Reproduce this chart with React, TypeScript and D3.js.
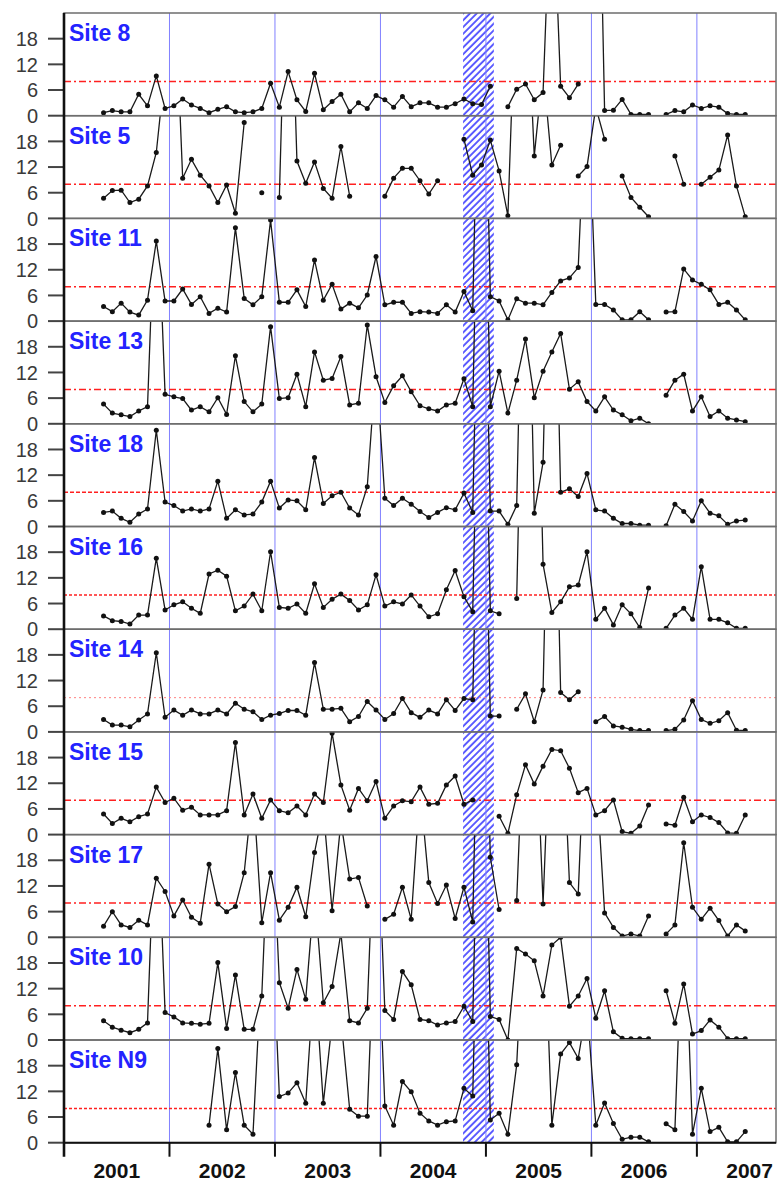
import React, { useEffect, useRef } from 'react'
import * as d3 from 'd3'

// one value per month, first value is May 2001 (month index 4 counted from Jan 2001)
// values above 24 run off the top of a panel; null = no sample
const firstMonth = 4

const siteLabels = ['Site 8', 'Site 5', 'Site 11', 'Site 13', 'Site 18', 'Site 16', 'Site 14', 'Site 15', 'Site 17', 'Site 10', 'Site N9']
const yearLabels = ['2001', '2002', '2003', '2004', '2005', '2006', '2007']
const yTicks = [0, 6, 12, 18]
const threshold = 8
// hatched period, in months since Jan 2001
const eventStart = 45.4
const eventEnd = 48.9

const site8 = [
  0.7, 1.2, 0.9, 0.9, 5.0, 2.3, 9.3, 1.7, 2.3, 3.9,
  2.5, 1.7, 0.7, 1.5, 2.1, 0.9, 0.7, 0.9, 1.7, 7.6,
  2.0, 10.3, 3.7, 1.0, 9.9, 1.4, 3.3, 5.0, 0.9, 3.0,
  1.7, 4.7, 3.7, 2.0, 4.5, 2.1, 3.0, 3.0, 2.0, 2.0,
  2.8, 3.9, 2.8, 2.6, 6.9, null, 2.1, 6.2, 7.4, 3.7,
  5.4, 60, 6.9, 4.2, 7.4, null, 100, 1.2, 1.3, 3.8,
  0.3, 0.3, 0.3, null, 0.3, 1.2, 0.9, 2.5, 1.7, 2.3,
  2.0, 0.5, 0.3, 0.3,
]
const site5 = [
  4.7, 6.5, 6.6, 3.7, 4.5, 7.6, 15.4, 35, 60, 9.4,
  13.8, 10.1, 7.6, 3.7, 7.8, 1.2, 22.4, null, 6.0, null,
  4.9, 80, 13.4, 8.2, 13.2, 7.0, 4.7, 16.8, 5.2, null,
  null, null, 5.2, 9.4, 11.7, 11.7, 8.8, 5.7, 8.8, null,
  null, 18.5, 10.1, 12.5, 18.3, 11.1, 0.6, 60, 60, 14.6,
  35, 12.5, 17.1, null, 9.9, 12.1, 26, 18.5, null, 9.9,
  4.9, 2.6, 0.4, null, null, 14.6, 8.0, null, 8.0, 9.6,
  11.3, 19.5, 7.6, 0.4,
]
const site11 = [
  3.4, 2.2, 4.2, 2.1, 1.4, 4.9, 18.7, 4.7, 4.7, 7.5,
  3.9, 5.7, 1.8, 3.0, 2.1, 21.8, 5.3, 3.8, 5.7, 23.6,
  4.4, 4.4, 7.3, 3.4, 14.3, 4.9, 8.6, 2.8, 4.2, 3.1,
  6.1, 15.1, 3.8, 4.4, 4.4, 1.8, 2.2, 2.1, 1.8, 3.8,
  2.1, 6.9, 2.4, 100, 5.7, 4.7, 0.3, 5.2, 4.2, 4.2,
  3.8, 6.7, 9.4, 10.1, 12.5, 60, 3.9, 3.9, 2.6, 0.3,
  0.3, 2.2, 0.3, null, 2.1, 2.2, 12.2, 9.6, 8.6, 7.3,
  3.9, 4.4, 2.6, 0.3,
]
const site13 = [
  4.6, 2.5, 2.1, 1.7, 3.0, 4.0, 60, 6.9, 6.3, 5.9,
  3.2, 4.0, 2.8, 6.1, 2.2, 15.9, 5.2, 2.8, 4.6, 22.7,
  5.9, 6.1, 11.6, 4.0, 16.8, 10.2, 10.6, 15.7, 4.4, 4.8,
  23.1, 11.0, 5.0, 8.9, 11.2, 7.5, 4.2, 3.5, 3.0, 4.4,
  4.8, 10.5, 4.0, 100, 4.0, 12.3, 2.5, 10.2, 19.8, 6.1,
  12.3, 16.8, 21.1, 8.1, 9.8, 5.2, 3.0, 6.3, 3.2, 2.1,
  0.7, 1.3, 0, null, 6.7, 10.2, 11.6, 3.0, 6.3, 1.7,
  3.0, 1.3, 0.9, 0.5,
]
const site18 = [
  3.3, 3.6, 1.9, 1.0, 2.9, 4.1, 22.5, 5.7, 4.9, 3.6,
  4.1, 3.6, 4.1, 10.6, 1.9, 3.9, 2.7, 2.9, 5.7, 10.6,
  4.3, 6.2, 6.0, 3.9, 16.1, 5.4, 7.2, 8.0, 4.3, 2.7,
  9.3, 38, 6.6, 4.9, 6.6, 5.2, 3.5, 2.1, 3.3, 4.4,
  3.9, 7.8, 3.3, 100, 3.6, 3.6, 0.5, 4.9, 100, 3.1,
  15.0, 100, 8.0, 8.8, 7.0, 12.4, 3.9, 3.6, 1.9, 0.7,
  0.7, 0.3, 0.3, null, 0.2, 5.2, 3.5, 1.3, 6.0, 3.1,
  2.5, 0.5, 1.3, 1.5,
]
const site16 = [
  3.1, 2.0, 1.8, 1.2, 3.3, 3.3, 16.6, 4.5, 5.7, 6.4,
  4.9, 3.7, 12.9, 13.8, 12.4, 4.3, 5.4, 8.2, 4.3, 18.1,
  5.1, 4.9, 5.9, 3.7, 10.6, 5.1, 7.0, 8.2, 6.7, 4.5,
  5.7, 12.7, 5.4, 6.4, 5.9, 8.0, 5.4, 2.9, 3.6, 9.2,
  13.7, 7.6, 4.1, 100, 4.3, 3.6, null, 7.2, 100, 100,
  15.2, 3.9, 6.4, 9.9, 10.3, 18.1, 2.3, 4.9, 1.0, 5.7,
  3.6, 0.4, 9.6, null, 0.2, 3.3, 4.9, 2.3, 14.6, 2.3,
  2.3, 1.5, 0.2, 0.2,
]
const site14 = [
  2.9, 1.6, 1.6, 1.2, 2.8, 4.2, 18.5, 3.4, 5.1, 3.9,
  5.1, 4.2, 4.2, 5.1, 4.2, 6.7, 5.3, 4.7, 2.9, 3.9,
  4.3, 5.0, 5.0, 3.9, 16.2, 5.3, 5.3, 5.5, 2.4, 3.6,
  7.1, 5.1, 2.9, 4.3, 7.8, 4.5, 3.4, 5.1, 4.2, 7.5,
  5.0, 7.8, 7.5, 100, 3.7, 3.7, null, 5.3, 8.9, 2.4,
  9.8, 100, 9.2, 7.5, 9.4, null, 2.4, 3.6, 1.4, 1.1,
  0.6, 0.3, 0.3, null, 0.3, 0.6, 2.8, 7.3, 2.9, 2.0,
  2.6, 4.5, 0.4, 0.3,
]
const site15 = [
  4.8, 2.6, 3.8, 3.0, 4.2, 4.8, 11.1, 7.5, 8.5, 5.7,
  6.4, 4.6, 4.6, 4.6, 5.6, 21.5, 4.6, 9.5, 3.8, 8.1,
  5.6, 5.1, 6.7, 4.6, 9.5, 7.5, 23.7, 11.6, 5.7, 10.8,
  7.9, 12.4, 3.8, 6.7, 7.9, 7.7, 11.1, 7.1, 7.3, 11.6,
  13.7, 7.1, 8.1, null, null, 4.3, 0.3, 9.3, 16.3, 11.8,
  16.0, 19.9, 19.6, 15.5, 9.8, 10.8, 4.6, 5.6, 8.1, 0.7,
  0.3, 2.0, 6.9, null, 2.5, 2.2, 8.7, 3.0, 4.6, 4.0,
  2.8, 0.4, 0.3, 4.6,
]
const site17 = [
  2.6, 6.0, 2.9, 2.3, 4.0, 2.9, 13.8, 10.7, 5.0, 8.7,
  4.7, 3.3, 17.1, 7.8, 6.0, 7.2, 15.1, 35, 3.4, 15.1,
  4.0, 7.0, 11.7, 4.8, 19.8, 30, 6.2, 27, 13.6, 14.0,
  7.3, null, 4.2, 5.4, 11.7, 4.2, 35, 12.8, 7.9, 12.2,
  4.4, 11.7, 3.6, 100, 18.7, 6.5, null, 8.6, 60, 60,
  7.8, 60, 60, 12.8, 10.1, 60, 40, 5.7, 2.3, 0.3,
  0.8, 0.3, 5.0, null, 0.8, 2.9, 22.1, 7.0, 4.2, 6.8,
  3.9, 0.3, 2.9, 1.5,
]
const site10 = [
  4.5, 3.0, 2.3, 1.7, 2.5, 4.0, 60, 6.4, 5.4, 4.0,
  3.9, 3.7, 3.9, 18.1, 2.7, 15.2, 2.5, 2.5, 10.3, 60,
  13.4, 7.4, 16.5, 9.5, 35, 8.7, 12.5, 25, 4.5, 4.0,
  7.4, 60, 6.9, 4.8, 16.0, 12.9, 4.8, 4.5, 3.5, 4.0,
  4.3, 7.9, 4.3, 100, 5.5, 4.8, 0, 21.4, 20.1, 18.5,
  10.3, 22.2, 24, 7.9, 10.3, 14.4, 5.1, 11.5, 1.9, 0.4,
  0.3, 0.3, 0.3, null, 11.5, 3.9, 13.1, 1.4, 2.2, 4.7,
  3.0, 0.3, 0.3, 0.3,
]
const siteN9 = [
  null, null, null, null, null, null, null, null, null, null,
  null, null, 4.1, 22.0, 3.0, 16.4, 4.1, 2.0, 42, 60,
  10.8, 11.6, 14.0, 9.2, 40, 9.2, 28, 29, 7.8, 6.2,
  6.2, 60, 8.6, 4.1, 14.3, 11.9, 6.9, 5.1, 4.1, 4.9,
  5.1, 12.7, 10.9, 100, 5.3, 6.9, 2.0, 18.2, 60, 60,
  60, 4.1, 20.7, 23.4, 19.7, 32, 4.1, 9.3, 4.5, 0.8,
  1.3, 1.3, 0.2, null, 4.4, 3.0, 60, 2.0, 12.7, 2.6,
  3.6, 0.2, 0.2, 2.6,
]

const siteSeries = [site8, site5, site11, site13, site18, site16, site14, site15, site17, site10, siteN9]

const W = 781
const H = 1185
const left = 64
const right = 776
const top = 13
const panelH = 102.7

// red reference line style per panel (dash-dot, dashed, dotted)
const refDash = ['7,3,2,3', '7,3,2,3', '7,3,2,3', '7,3,2,3', '4,2', '3,2', '2,3', '7,3,2,3', '7,3,2,3', '7,3,2,3', '3,2']

type Pt = { m: number; v: number | null }

const App: React.FC = () => {
  const svgRef = useRef<SVGSVGElement>(null)

  useEffect(() => {
    if (!svgRef.current) return
    const svg = d3.select(svgRef.current)
    svg.selectAll('*').remove()

    const x = d3.scaleLinear().domain([0, 81]).range([left, right])
    const bottom = top + panelH * siteSeries.length
    const font = "'Liberation Sans', Arial, sans-serif"

    const defs = svg.append('defs')
    const pat = defs.append('pattern')
      .attr('id', 'hatch')
      .attr('patternUnits', 'userSpaceOnUse')
      .attr('width', 4.8)
      .attr('height', 4.8)
      .attr('patternTransform', 'rotate(45)')
    pat.append('line')
      .attr('x1', 1).attr('y1', 0).attr('x2', 1).attr('y2', 4.8)
      .attr('stroke', '#3838ff')
      .attr('stroke-width', 1.6)

    svg.append('rect').attr('width', W).attr('height', H).attr('fill', '#fff')

    // hatched event band across all panels
    svg.append('rect')
      .attr('x', x(eventStart))
      .attr('y', top)
      .attr('width', x(eventEnd) - x(eventStart))
      .attr('height', bottom - top)
      .attr('fill', 'url(#hatch)')

    siteSeries.forEach((vals, p) => {
      const y0 = top + p * panelH
      const y = d3.scaleLinear().domain([0, 24]).range([y0 + panelH, y0])
      const clipId = `clip${p}`
      defs.append('clipPath').attr('id', clipId)
        .append('rect')
        .attr('x', left).attr('y', y0)
        .attr('width', right - left).attr('height', panelH)

      const g = svg.append('g')

      // year boundaries
      g.selectAll('line.year')
        .data(d3.range(12, 81, 12))
        .join('line')
        .attr('x1', d => x(d)).attr('x2', d => x(d))
        .attr('y1', y0).attr('y2', y0 + panelH)
        .attr('stroke', '#8080ff')
        .attr('stroke-width', 1)

      // reference level
      g.append('line')
        .attr('x1', left).attr('x2', right)
        .attr('y1', y(threshold)).attr('y2', y(threshold))
        .attr('stroke', p === 6 ? '#ff8080' : '#ff2020')
        .attr('stroke-width', p === 6 ? 1 : 1.5)
        .attr('stroke-dasharray', refDash[p])

      const pts: Pt[] = vals.map((v, k) => ({ m: firstMonth + k + 0.5, v }))
      const line = d3.line<Pt>()
        .defined(d => d.v !== null)
        .x(d => x(d.m))
        .y(d => y(d.v as number))

      const gc = g.append('g').attr('clip-path', `url(#${clipId})`)
      gc.append('path')
        .datum(pts)
        .attr('fill', 'none')
        .attr('stroke', '#1a1a1a')
        .attr('stroke-width', 1.3)
        .attr('d', line)
      gc.selectAll('circle')
        .data(pts.filter(d => d.v !== null))
        .join('circle')
        .attr('cx', d => x(d.m))
        .attr('cy', d => y(d.v as number))
        .attr('r', 2.5)
        .attr('fill', '#111')

      // frame
      g.append('rect')
        .attr('x', left).attr('y', y0)
        .attr('width', right - left).attr('height', panelH)
        .attr('fill', 'none')
        .attr('stroke', '#6e6e6e')
        .attr('stroke-width', 1.5)

      // y ticks
      g.selectAll('line.tick')
        .data(yTicks)
        .join('line')
        .attr('x1', left - 16).attr('x2', left)
        .attr('y1', d => y(d)).attr('y2', d => y(d))
        .attr('stroke', '#444')
        .attr('stroke-width', 2)
      g.selectAll('text.tick')
        .data(yTicks)
        .join('text')
        .attr('x', left - 26)
        .attr('y', d => y(d))
        .attr('dy', '0.36em')
        .attr('text-anchor', 'end')
        .attr('font-family', font)
        .attr('font-size', 20)
        .attr('fill', '#3a3a3a')
        .text(d => d)

      g.append('text')
        .attr('x', left + 5)
        .attr('y', y0 + 28)
        .attr('font-family', font)
        .attr('font-size', 23)
        .attr('font-weight', 'bold')
        .attr('fill', '#2323ff')
        .text(siteLabels[p])
    })

    // axes
    svg.append('line')
      .attr('x1', left).attr('x2', left)
      .attr('y1', top).attr('y2', bottom + 14)
      .attr('stroke', '#111').attr('stroke-width', 2.6)
    svg.append('line')
      .attr('x1', left).attr('x2', right)
      .attr('y1', bottom).attr('y2', bottom)
      .attr('stroke', '#111').attr('stroke-width', 2)
    svg.selectAll('line.xtick')
      .data(d3.range(12, 81, 12))
      .join('line')
      .attr('x1', d => x(d)).attr('x2', d => x(d))
      .attr('y1', bottom).attr('y2', bottom + 14)
      .attr('stroke', '#111').attr('stroke-width', 2)
    svg.selectAll('text.year')
      .data(yearLabels)
      .join('text')
      .attr('x', (_, i) => x(i * 12 + 6))
      .attr('y', bottom + 35)
      .attr('text-anchor', 'middle')
      .attr('font-family', font)
      .attr('font-size', 21)
      .attr('font-weight', 'bold')
      .attr('fill', '#111')
      .text(d => d)
  }, [])

  return (
    <svg
      ref={svgRef}
      width={W}
      height={H}
      style={{ position: 'absolute', left: 0, top: 0, display: 'block' }}
    />
  )
}

export default App
